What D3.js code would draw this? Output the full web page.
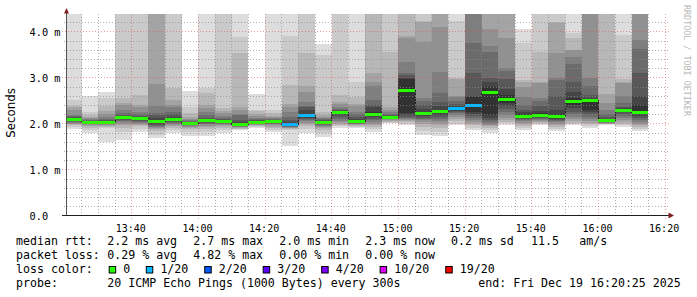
<!DOCTYPE html>
<html>
<head>
<meta charset="utf-8">
<script src="https://cdn.jsdelivr.net/npm/d3@7"></script>
<style>
body { margin: 0; background: #fff; }
svg { display: block; }
text { white-space: pre; }
</style>
</head>
<body>
<div id="chart"></div>
<script>
//5 minute bins (start time of each)
const bins = ["13:20","13:25","13:30","13:35","13:40","13:45","13:50","13:55",
  "14:00","14:05","14:10","14:15","14:20","14:25","14:30","14:35","14:40","14:45","14:50","14:55",
  "15:00","15:05","15:10","15:15","15:20","15:25","15:30","15:35","15:40","15:45","15:50","15:55",
  "16:00","16:05","16:10"];

//median rtt per bin (ms)
const median = [2.09, 2.03, 2.03, 2.13, 2.11, 2.05, 2.09, 2.00, 2.07, 2.05, 1.98, 2.03, 2.05, 1.98, 2.18, 2.03, 2.25, 2.05,
  2.20, 2.14, 2.72, 2.22, 2.27, 2.33, 2.40, 2.68, 2.53, 2.16, 2.18, 2.16, 2.48, 2.50, 2.07, 2.29, 2.25];

//lost pings out of 20 per bin
const lost = [0,0,0,0,0,0,0,0,0,0,0,0,0,1,1,0,0,0,0,0,0,0,0,1,1,0,0,0,0,0,0,0,0,0,0];

//upper pings per bin, slowest first (ping 20 .. ping 11), ms
const smokeHigh = [
  [4.9, 2.51, 2.38, 2.36, 2.30, 2.18, 2.16, 2.14, 2.12, 2.10],
  [2.59, 2.24, 2.18, 2.14, 2.11, 2.09, 2.07, 2.06, 2.05, 2.04],
  [2.68, 2.55, 2.37, 2.27, 2.20, 2.15, 2.10, 2.07, 2.05, 2.04],
  [5.0, 4.7, 2.55, 2.45, 2.40, 2.30, 2.22, 2.18, 2.16, 2.14],
  [4.9, 4.6, 2.61, 2.40, 2.35, 2.25, 2.20, 2.16, 2.14, 2.12],
  [5.2, 4.9, 4.7, 4.5, 2.85, 2.37, 2.22, 2.18, 2.12, 2.08],
  [4.8, 4.5, 2.77, 2.51, 2.40, 2.35, 2.25, 2.20, 2.15, 2.11],
  [2.70, 2.35, 2.22, 2.15, 2.10, 2.07, 2.05, 2.03, 2.02, 2.01],
  [4.7, 2.77, 2.66, 2.40, 2.33, 2.25, 2.18, 2.13, 2.10, 2.08],
  [4.8, 4.5, 2.33, 2.28, 2.22, 2.17, 2.12, 2.10, 2.08, 2.06],
  [4.9, 3.88, 3.53, 2.35, 2.30, 2.20, 2.18, 2.08, 2.03, 2.00],
  [2.64, 2.29, 2.27, 2.20, 2.16, 2.12, 2.09, 2.07, 2.05, 2.04],
  [4.9, 2.29, 2.22, 2.17, 2.14, 2.12, 2.10, 2.08, 2.07, 2.06],
  [4.9, 3.90, 2.83, 2.42, 2.35, 2.25, 2.15, 2.08, 2.03, 2.00],
  [4.9, 4.6, 3.53, 2.81, 2.68, 2.46, 2.38, 2.35, 2.30, 2.20],
  [3.72, 3.48, 2.24, 2.18, 2.14, 2.11, 2.09, 2.07, 2.05, 2.04],
  [4.9, 4.6, 2.61, 2.46, 2.42, 2.35, 2.32, 2.30, 2.28, 2.26],
  [4.8, 2.90, 2.57, 2.42, 2.38, 2.25, 2.20, 2.14, 2.10, 2.07],
  [5.1, 4.8, 4.6, 3.09, 2.90, 2.81, 2.51, 2.40, 2.35, 2.24],
  [4.9, 4.6, 3.55, 2.35, 2.30, 2.25, 2.20, 2.18, 2.16, 2.15],
  [5.1, 4.8, 4.6, 3.90, 3.85, 3.33, 3.09, 3.05, 3.00, 2.97],
  [5.0, 4.7, 4.22, 4.20, 3.77, 2.55, 2.50, 2.40, 2.32, 2.26],
  [5.2, 4.9, 4.7, 4.5, 4.09, 3.12, 2.66, 2.46, 2.38, 2.30],
  [4.8, 4.22, 2.98, 2.96, 2.60, 2.57, 2.48, 2.42, 2.38, 2.35],
  [5.3, 5.1, 4.9, 4.7, 4.5, 4.4, 3.75, 3.09, 2.60, 2.57],
  [5.2, 4.9, 4.7, 4.5, 4.05, 3.69, 3.55, 3.00, 2.90, 2.80],
  [5.2, 4.9, 4.7, 4.5, 3.85, 3.20, 3.15, 2.96, 2.75, 2.62],
  [4.05, 3.75, 2.94, 2.90, 2.80, 2.57, 2.40, 2.30, 2.24, 2.20],
  [4.9, 4.6, 3.55, 2.90, 2.87, 2.55, 2.50, 2.38, 2.28, 2.22],
  [5.0, 4.7, 4.20, 4.18, 3.53, 3.00, 2.95, 2.60, 2.29, 2.20],
  [4.8, 3.96, 3.85, 3.60, 3.59, 3.44, 3.29, 2.90, 2.68, 2.55],
  [5.3, 5.0, 4.8, 4.6, 4.5, 3.00, 2.81, 2.61, 2.56, 2.52],
  [5.0, 4.7, 4.5, 2.64, 2.44, 2.30, 2.20, 2.14, 2.10, 2.08],
  [4.8, 3.92, 2.96, 2.90, 2.87, 2.60, 2.45, 2.35, 2.33, 2.31],
  [5.3, 5.0, 4.8, 4.6, 4.5, 3.81, 3.62, 3.09, 2.59, 2.40]
];

//lower pings per bin (ping 10 .. ping 1), ms
const smokeLow = [
  [2.08, 2.06, 2.05, 2.03, 2.02, 2.00, 1.98, 1.96, 1.93, 1.89],
  [2.02, 2.01, 2.00, 1.99, 1.98, 1.96, 1.94, 1.91, 1.86, 1.79],
  [2.02, 2.01, 2.00, 1.99, 1.98, 1.97, 1.95, 1.93, 1.90, 1.59],
  [2.12, 2.10, 2.08, 2.06, 2.03, 2.00, 1.96, 1.90, 1.81, 1.64],
  [2.10, 2.08, 2.06, 2.04, 2.02, 2.00, 1.97, 1.94, 1.88, 1.81],
  [2.03, 2.00, 1.97, 1.95, 1.92, 1.90, 1.87, 1.84, 1.76, 1.68],
  [2.07, 2.05, 2.03, 2.01, 1.99, 1.97, 1.94, 1.90, 1.85, 1.79],
  [1.99, 1.98, 1.97, 1.96, 1.95, 1.93, 1.91, 1.88, 1.82, 1.72],
  [2.06, 2.04, 2.02, 2.00, 1.98, 1.95, 1.92, 1.88, 1.82, 1.72],
  [2.04, 2.03, 2.02, 2.00, 1.98, 1.96, 1.94, 1.91, 1.86, 1.79],
  [1.97, 1.96, 1.95, 1.94, 1.93, 1.92, 1.90, 1.89, 1.87, 1.85],
  [2.02, 2.01, 2.00, 1.99, 1.98, 1.97, 1.96, 1.94, 1.92, 1.90],
  [2.04, 2.03, 2.02, 2.00, 1.98, 1.96, 1.93, 1.90, 1.86, 1.81],
  [1.97, 1.95, 1.94, 1.93, 1.92, 1.91, 1.90, 1.88, 1.85, 1.52],
  [2.16, 2.12, 2.10, 2.08, 2.05, 2.02, 1.98, 1.94, 1.88, 1.79],
  [2.02, 2.00, 1.99, 1.97, 1.95, 1.93, 1.90, 1.86, 1.80, 1.70],
  [2.22, 2.18, 2.14, 2.10, 2.06, 2.03, 2.00, 1.97, 1.94, 1.90],
  [2.03, 2.02, 2.01, 2.00, 1.99, 1.98, 1.96, 1.94, 1.92, 1.90],
  [2.17, 2.14, 2.10, 2.07, 2.04, 2.00, 1.96, 1.92, 1.87, 1.81],
  [2.13, 2.12, 2.11, 2.10, 2.09, 2.08, 2.06, 2.04, 2.02, 2.00],
  [2.22, 2.18, 2.14, 2.12, 2.10, 2.08, 2.06, 2.03, 2.00, 1.96],
  [2.19, 2.16, 2.13, 2.10, 2.07, 2.03, 1.98, 1.92, 1.84, 1.74],
  [2.22, 2.18, 2.14, 2.10, 2.06, 2.02, 1.97, 1.90, 1.82, 1.72],
  [2.31, 2.28, 2.25, 2.22, 2.18, 2.14, 2.10, 2.05, 2.00, 1.96],
  [2.25, 2.20, 2.16, 2.12, 2.08, 2.04, 2.00, 1.96, 1.90, 1.85],
  [2.18, 2.12, 2.08, 2.04, 2.00, 1.97, 1.94, 1.90, 1.85, 1.79],
  [2.45, 2.38, 2.32, 2.25, 2.18, 2.12, 2.07, 2.03, 2.00, 1.96],
  [2.14, 2.12, 2.10, 2.08, 2.05, 2.02, 1.99, 1.95, 1.90, 1.85],
  [2.16, 2.14, 2.12, 2.10, 2.08, 2.06, 2.04, 2.02, 2.00, 1.96],
  [2.12, 2.10, 2.08, 2.06, 2.03, 2.00, 1.97, 1.93, 1.88, 1.83],
  [2.40, 2.33, 2.26, 2.20, 2.14, 2.09, 2.05, 2.01, 1.98, 1.96],
  [2.30, 2.25, 2.20, 2.15, 2.10, 2.06, 2.02, 1.98, 1.94, 1.90],
  [2.06, 2.05, 2.04, 2.03, 2.02, 2.01, 2.00, 1.99, 1.98, 1.96],
  [2.27, 2.24, 2.20, 2.16, 2.12, 2.08, 2.04, 2.00, 1.96, 1.92],
  [2.20, 2.16, 2.12, 2.08, 2.04, 2.00, 1.96, 1.92, 1.88, 1.83]
];

//loss legend
const lossLevels = [0, 1, 2, 3, 4, 10, 19];
const lossLabels = ["0", "1/20", "2/20", "3/20", "4/20", "10/20", "19/20"];
const lossColors = ["#26ff00", "#00b8ff", "#0059ff", "#5e00ff", "#7e00ff", "#dd00ff", "#ff0000"];

//axis ticks
const yMajor = [0, 1, 2, 3, 4];
const yLabels = ["0.0", "1.0 m", "2.0 m", "3.0 m", "4.0 m"];

//legend text
const rttItems = ["2.2 ms avg", "2.7 ms max", "2.0 ms min", "2.3 ms now", "0.2 ms sd", "11.5", "am/s"];
const lossItems = ["0.29 % avg", "4.82 % max", "0.00 % min", "0.00 % now"];
const probeText = "20 ICMP Echo Pings (1000 Bytes) every 300s";
const endText = "end: Fri Dec 19 16:20:25 2025";

const width = 697;
const height = 297;
const plotLeft = 66.5, plotRight = 666.5, plotTop = 14.25, plotBottom = 215.5;
const mono = "'DejaVu Sans Mono', monospace";

const svg = d3.select("#chart").append("svg").attr("width", width).attr("height", height);
svg.append("rect").attr("width", width).attr("height", height).attr("fill", "#fff");

const day = (h, m, s) => new Date(2025, 11, 19, h, m, s || 0);
const parse = s => { const p = s.split(":"); return day(+p[0], +p[1]); };

const x = d3.scaleTime().domain([day(13, 20, 25), day(16, 20, 25)]).range([plotLeft, plotRight]);
const y = d3.scaleLinear().domain([0, 4.375]).range([plotBottom, plotTop]);

svg.append("defs").append("clipPath").attr("id", "plotclip")
  .append("rect").attr("x", plotLeft).attr("y", 14).attr("width", plotRight - plotLeft).attr("height", plotBottom - 14);

const plot = svg.append("g").attr("clip-path", "url(#plotclip)").attr("shape-rendering", "crispEdges");

//bin geometry
const bx0 = i => Math.max(x(parse(bins[i])), plotLeft);
const bx1 = i => x(d3.timeMinute.offset(parse(bins[i]), 5));

//smoke: band k spans ping k .. ping 21-k
const pings = bins.map((b, i) => smokeLow[i].slice().reverse().concat(smokeHigh[i].slice().reverse()));
for (let k = 1; k <= 10; k++) {
  const c = Math.floor(190 / 10 * (10 - k)) + 50;
  plot.selectAll(null).data(bins).enter().append("rect")
    .attr("x", (d, i) => bx0(i))
    .attr("width", (d, i) => bx1(i) - bx0(i))
    .attr("y", (d, i) => y(pings[i][20 - k]))
    .attr("height", (d, i) => y(pings[i][k - 1]) - y(pings[i][20 - k]))
    .attr("fill", d3.rgb(c, c, c));
}

//median step line
const medPts = bins.map((b, i) => [bx0(i), y(median[i])]);
medPts.push([bx1(bins.length - 1), y(median[bins.length - 1])]);
plot.append("path").attr("d", d3.line().curve(d3.curveStepAfter)(medPts))
  .attr("fill", "none").attr("stroke", "#202020").attr("stroke-width", 1);

//median coloured by loss
const lossColor = n => lossColors[lossLevels.findIndex(l => l >= n)];
plot.selectAll(null).data(bins).enter().append("rect")
  .attr("x", (d, i) => bx0(i))
  .attr("width", (d, i) => bx1(i) - bx0(i))
  .attr("y", (d, i) => y(median[i]) - 1.5)
  .attr("height", 3)
  .attr("fill", (d, i) => lossColor(lost[i]));

//grid on top
const grid = svg.append("g").attr("shape-rendering", "crispEdges").attr("stroke-dasharray", "1,2");
const minorCol = "rgba(143,143,143,0.7)", majorCol = "rgba(222,80,80,0.55)";
y.ticks(22).filter(v => v > 0 && Math.abs(v - Math.round(v)) > 1e-6).forEach(v => {
  const yy = Math.round(y(v)) + 0.5;
  grid.append("line").attr("x1", plotLeft - 2.5).attr("x2", plotRight + 2.5).attr("y1", yy).attr("y2", yy).attr("stroke", minorCol);
});
yMajor.filter(v => v > 0).forEach(v => {
  const yy = Math.round(y(v)) - 0.5;
  grid.append("line").attr("x1", plotLeft - 4.5).attr("x2", plotRight + 4).attr("y1", yy).attr("y2", yy).attr("stroke", majorCol);
});
x.ticks(d3.timeMinute.every(5)).forEach(t => {
  const major = t.getMinutes() % 20 === 0;
  const xx = Math.floor(x(t)) + 0.5;
  grid.append("line").attr("x1", xx).attr("x2", xx).attr("y1", 14).attr("y2", plotBottom + (major ? 3 : 2))
    .attr("stroke", major ? majorCol : minorCol);
});

//axes lines
svg.append("line").attr("x1", plotLeft).attr("x2", plotLeft).attr("y1", 12).attr("y2", plotBottom + 0.5)
  .attr("stroke", "#555").attr("shape-rendering", "crispEdges");
svg.append("line").attr("x1", 62).attr("x2", 669).attr("y1", plotBottom).attr("y2", plotBottom)
  .attr("stroke", "#1f1f1f").attr("shape-rendering", "crispEdges");
svg.append("path").attr("d", "M64,13.5L69,13.5L66.5,8Z").attr("fill", "#801f1f");
svg.append("path").attr("d", "M668.5,212.5L668.5,218.5L674,215.5Z").attr("fill", "#801f1f");

//axis labels
const xAxis = svg.append("g").attr("transform", `translate(-1.5, ${plotBottom})`)
  .call(d3.axisBottom(x).ticks(d3.timeMinute.every(20)).tickSize(0).tickPadding(9).tickFormat(d3.timeFormat("%H:%M")));
xAxis.select(".domain").remove();
xAxis.selectAll("text").attr("font-family", mono).attr("font-size", "10px").attr("fill", "#000");

yMajor.forEach((v, i) => {
  svg.append("text").attr("x", 29.5).attr("y", Math.round(y(v)) + 3.5)
    .attr("font-family", mono).attr("font-size", "10.3px").attr("fill", "#000").text(yLabels[i]);
});

svg.append("text").attr("transform", "translate(14.5,113) rotate(-90)").attr("text-anchor", "middle")
  .attr("font-family", "'DejaVu Sans', sans-serif").attr("font-size", "11.8px").attr("fill", "#000").text("Seconds");

svg.append("text").attr("transform", "translate(684,5) rotate(90)")
  .attr("font-family", mono).attr("font-size", "8.4px").attr("fill", "#b8b8b8").text("RRDTOOL / TOBI OETIKER");

//legend
const lx = 16, vx = 107.3, fs = "11.6px";
const legendText = (t, xx, yy) => svg.append("text").attr("x", xx).attr("y", yy)
  .attr("font-family", mono).attr("font-size", fs).attr("fill", "#000").text(t);

legendText("median rtt:", lx, 245);
const rttX = [0, 86, 172, 258, 343.7, 423.7, 472];
rttItems.forEach((t, i) => legendText(t, vx + rttX[i], 245));
legendText("packet loss:", lx, 259);
lossItems.forEach((t, i) => legendText(t, vx + i * 86, 259));
legendText("loss color:", lx, 273);
legendText("probe:", lx, 287);
legendText(probeText, vx, 287);
legendText(endText, 478.3, 287);

const cw = 7.13;
let col = 13;
lossLabels.forEach((lab, i) => {
  const bx = lx + col * cw;
  svg.append("rect").attr("x", bx + 0.5).attr("y", 266.5).attr("width", 6.5).attr("height", 6.5)
    .attr("fill", lossColors[i]).attr("stroke", "#000").attr("stroke-width", 1);
  legendText(lab, bx + 2.05 * cw, 273);
  col += 4.2 + lab.length;
});
</script>
</body>
</html>
